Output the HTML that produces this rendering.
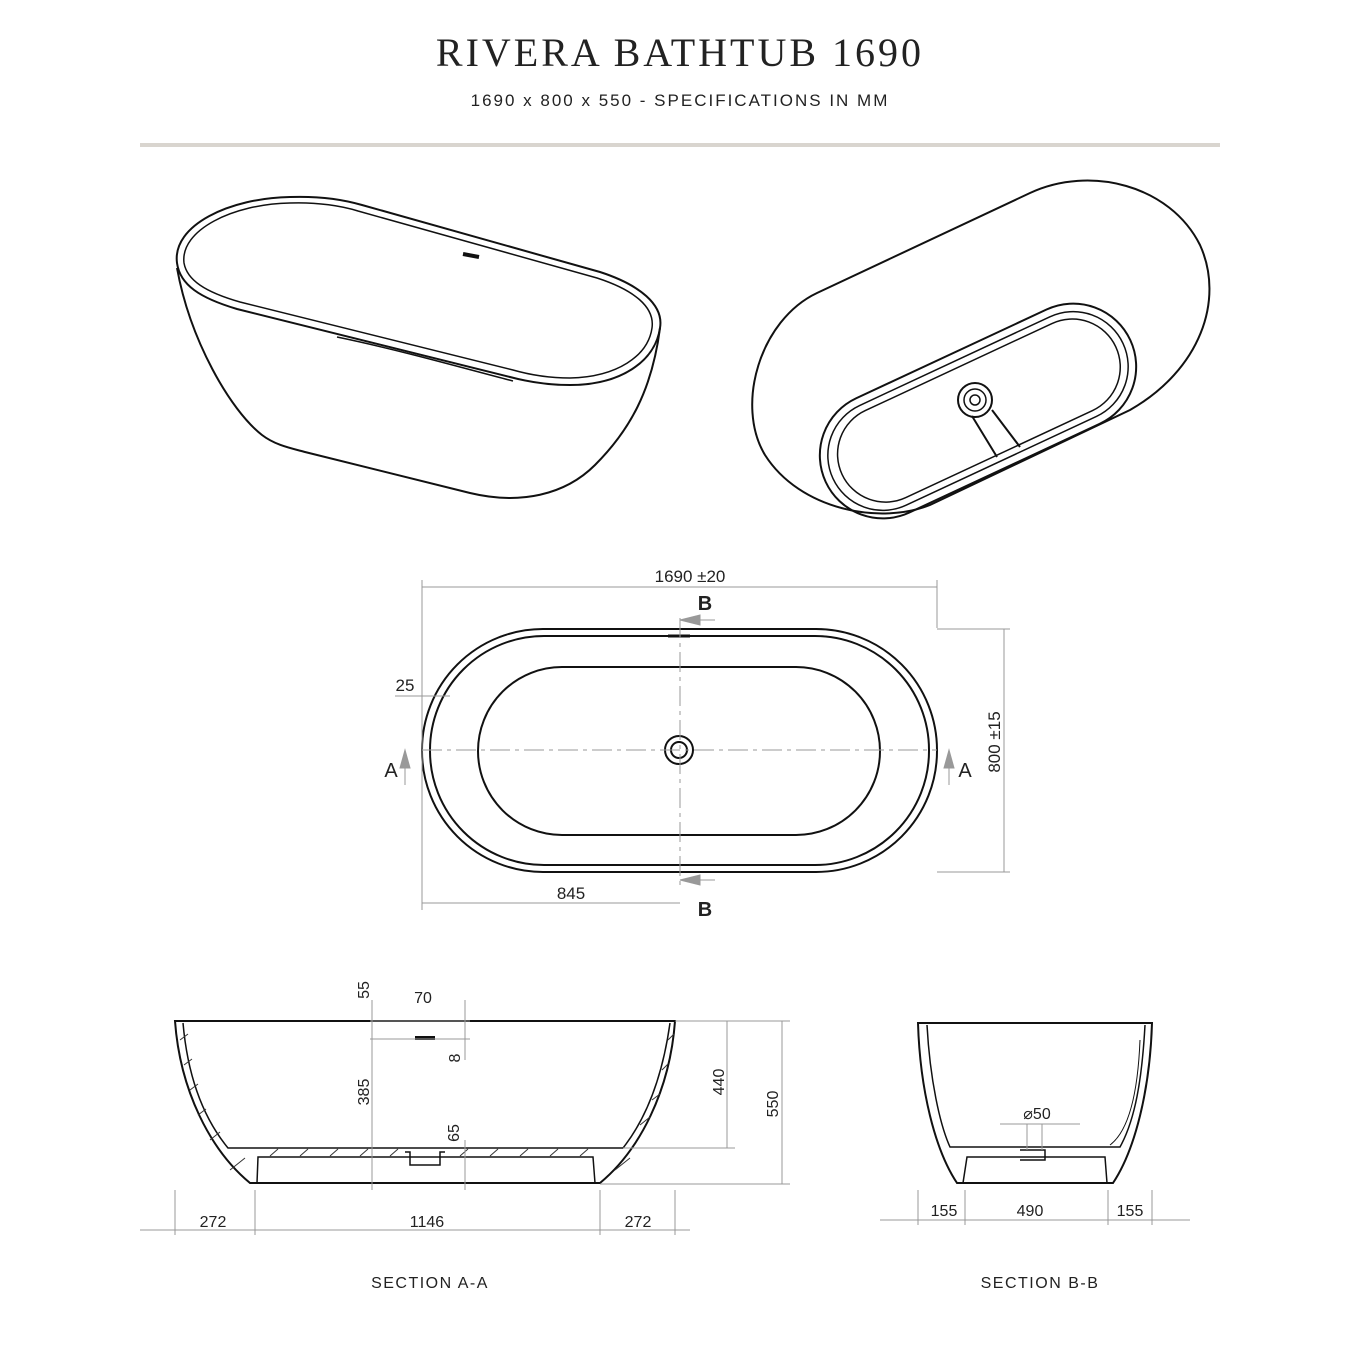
<!DOCTYPE html>
<html><head><meta charset="utf-8"><style>
html,body{margin:0;padding:0;background:#fff;}
svg{display:block}
text{font-family:"Liberation Sans",sans-serif;fill:#222}
</style></head><body>
<svg width="1360" height="1360" viewBox="0 0 1360 1360" xmlns="http://www.w3.org/2000/svg">
<rect width="1360" height="1360" fill="#fff"/>
<text x="680" y="66" font-size="40" text-anchor="middle" letter-spacing="3" style="font-family:'Liberation Serif',serif">RIVERA BATHTUB 1690</text>
<text x="680" y="106" font-size="17" text-anchor="middle" letter-spacing="2">1690 x 800 x 550  -  SPECIFICATIONS IN MM</text>
<rect x="140" y="143" width="1080" height="4" fill="#d9d5cf"/>

<g fill="none" stroke="#111" stroke-width="2">
<!-- top-left perspective -->
<path d="M177,268 C190,340 230,410 262,435 C275,445 290,448 305,452 L470,493 C520,505 565,495 595,465 C630,430 652,390 660,328"/>
<path d="M177,263 C172,225 230,198 290,197 C320,196 345,200 362,205 L600,272 C640,285 664,305 660,328 C655,362 620,385 570,385 C545,385 525,381 510,377 L237,309 C200,298 180,285 177,263 Z"/>
<path d="M184,263 C180,230 233,204 290,203 C318,202 342,206 358,211 L597,278 C634,290 655,307 652,328 C648,356 617,377 570,378 C546,378 527,374 513,370 L240,302 C205,292 187,280 184,263 Z" stroke-width="1.5"/>
<path d="M337,337 C400,350 470,370 513,381" stroke-width="1.5"/>
<line x1="463" y1="254" x2="479" y2="257" stroke-width="4"/>

<!-- top-right perspective -->
<path d="M1030,193 C1090,165 1170,185 1200,245 C1225,300 1200,370 1130,410 L930,505 C880,525 800,510 765,455 C735,405 760,320 817,293 Z"/>
<g transform="rotate(-25 978 411)">
<rect x="810" y="348" width="336" height="126" rx="63"/>
<rect x="818" y="356" width="320" height="110" rx="55" stroke-width="1.5"/>
<rect x="828" y="363" width="302" height="96" rx="48" stroke-width="1.5"/>
</g>
<circle cx="975" cy="400" r="17"/>
<circle cx="975" cy="400" r="11" stroke-width="1.5"/>
<circle cx="975" cy="400" r="5" stroke-width="1.5"/>
<path d="M972,416 L997,457 M992,410 L1020,447"/>

<!-- plan view -->
<rect x="422" y="629" width="515" height="243" rx="121"/>
<rect x="430" y="636" width="499" height="229" rx="114"/>
<rect x="478" y="667" width="402" height="168" rx="84"/>
<circle cx="679" cy="750" r="14"/>
<circle cx="679" cy="750" r="8"/>
<line x1="668" y1="636" x2="690" y2="636" stroke-width="3"/>
</g>
<g stroke="#999" stroke-width="1" fill="none">
<line x1="422" y1="750" x2="937" y2="750" stroke-dasharray="20,5,4,5"/>
<line x1="680" y1="618" x2="680" y2="888" stroke-dasharray="20,5,4,5"/>
<line x1="422" y1="580" x2="422" y2="910"/>
<line x1="937" y1="580" x2="937" y2="628"/>
<line x1="422" y1="587" x2="937" y2="587"/>
<line x1="422" y1="903" x2="680" y2="903"/>
<line x1="937" y1="629" x2="1010" y2="629"/>
<line x1="937" y1="872" x2="1010" y2="872"/>
<line x1="1004" y1="629" x2="1004" y2="872"/>
<line x1="395" y1="696" x2="450" y2="696"/>
</g>
<g fill="#999" stroke="#999">
<path d="M680,620 L700,615 L700,625Z"/><line x1="680" y1="620" x2="715" y2="620"/>
<path d="M680,880 L700,875 L700,885Z"/><line x1="680" y1="880" x2="715" y2="880"/>
<path d="M405,750 L400,768 L410,768Z"/><line x1="405" y1="750" x2="405" y2="785"/>
<path d="M949,750 L944,768 L954,768Z"/><line x1="949" y1="750" x2="949" y2="785"/>
</g>
<g font-size="17" text-anchor="middle">
<text x="690" y="582">1690 ±20</text>
<text x="705" y="610" font-size="20" font-weight="bold">B</text>
<text x="705" y="916" font-size="20" font-weight="bold">B</text>
<text x="391" y="777" font-size="20">A</text>
<text x="965" y="777" font-size="20">A</text>
<text x="405" y="691">25</text>
<text x="571" y="899">845</text>
<text x="0" y="0" transform="translate(1000,742) rotate(-90)">800 ±15</text>
</g>

<!-- Section A-A -->
<g fill="none" stroke="#111" stroke-width="2">
<path d="M175,1021 L675,1021 C670,1090 640,1150 600,1183 L250,1183 C210,1150 180,1090 175,1021 Z"/>
<path d="M183,1023 C188,1080 205,1120 228,1148 L623,1148 C645,1120 662,1080 670,1023" stroke-width="1.5"/>
<path d="M257,1183 L258,1157 L593,1157 L595,1183" stroke-width="1.5"/>
<line x1="415" y1="1038" x2="435" y2="1038" stroke-width="4"/>
<path d="M405,1152 L410,1152 L410,1165 L440,1165 L440,1152 L445,1152" stroke-width="1.5"/>
</g>
<g stroke="#333" stroke-width="1">
<path d="M180,1040 l8,-6 M184,1065 l8,-6 M190,1090 l8,-6 M198,1115 l8,-6 M210,1140 l10,-8 M230,1170 l15,-12 M668,1040 l6,-6 M662,1070 l6,-6 M652,1100 l8,-6 M640,1125 l10,-8 M615,1170 l15,-12"/>
<path d="M270,1156 l8,-7 M300,1156 l8,-7 M330,1156 l8,-7 M360,1156 l8,-7 M390,1156 l8,-7 M460,1156 l8,-7 M490,1156 l8,-7 M520,1156 l8,-7 M550,1156 l8,-7 M580,1156 l8,-7"/>
</g>
<g stroke="#999" stroke-width="1" fill="none">
<line x1="372" y1="1000" x2="372" y2="1190"/>
<line x1="465" y1="1000" x2="465" y2="1060"/>
<line x1="465" y1="1140" x2="465" y2="1190"/>
<line x1="370" y1="1021" x2="470" y2="1021"/>
<line x1="370" y1="1039" x2="470" y2="1039"/>
<line x1="675" y1="1021" x2="790" y2="1021"/>
<line x1="623" y1="1148" x2="735" y2="1148"/>
<line x1="600" y1="1184" x2="790" y2="1184"/>
<line x1="727" y1="1021" x2="727" y2="1148"/>
<line x1="782" y1="1021" x2="782" y2="1184"/>
<line x1="140" y1="1230" x2="690" y2="1230"/>
<line x1="175" y1="1190" x2="175" y2="1235"/>
<line x1="255" y1="1190" x2="255" y2="1235"/>
<line x1="600" y1="1190" x2="600" y2="1235"/>
<line x1="675" y1="1190" x2="675" y2="1235"/>
</g>
<g font-size="16" text-anchor="middle">
<text x="423" y="1003">70</text>
<text transform="translate(369,990) rotate(-90)">55</text>
<text transform="translate(369,1092) rotate(-90)">385</text>
<text transform="translate(460,1058) rotate(-90)">8</text>
<text transform="translate(459,1133) rotate(-90)">65</text>
<text transform="translate(724,1082) rotate(-90)">440</text>
<text transform="translate(778,1104) rotate(-90)">550</text>
<text x="213" y="1227">272</text>
<text x="427" y="1227">1146</text>
<text x="638" y="1227">272</text>
<text x="430" y="1288" letter-spacing="1.5">SECTION A-A</text>
<text x="1040" y="1288" letter-spacing="1.5">SECTION B-B</text>
</g>

<!-- Section B-B -->
<g fill="none" stroke="#111" stroke-width="2">
<path d="M918,1023 L1152,1023 C1150,1090 1135,1150 1113,1183 L957,1183 C935,1150 920,1090 918,1023 Z"/>
<path d="M927,1025 C930,1080 940,1125 950,1147 L1120,1147 C1135,1120 1142,1080 1145,1025" stroke-width="1.5"/>
<path d="M963,1183 L967,1157 L1105,1157 L1107,1183" stroke-width="1.5"/>
<path d="M1020,1150 L1045,1150 L1045,1160 L1020,1160" stroke-width="1.5"/>
<path d="M1140,1040 C1138,1090 1130,1130 1110,1145" stroke-width="1"/>
</g>
<g stroke="#999" stroke-width="1" fill="none">
<line x1="880" y1="1220" x2="1190" y2="1220"/>
<line x1="918" y1="1190" x2="918" y2="1225"/>
<line x1="965" y1="1190" x2="965" y2="1225"/>
<line x1="1108" y1="1190" x2="1108" y2="1225"/>
<line x1="1152" y1="1190" x2="1152" y2="1225"/>
<line x1="1000" y1="1124" x2="1080" y2="1124"/>
<line x1="1027" y1="1124" x2="1027" y2="1150"/>
<line x1="1042" y1="1124" x2="1042" y2="1150"/>
</g>
<g font-size="16" text-anchor="middle">
<text x="1037" y="1119">⌀50</text>
<text x="944" y="1216">155</text>
<text x="1030" y="1216">490</text>
<text x="1130" y="1216">155</text>
</g>
</svg>
</body></html>
